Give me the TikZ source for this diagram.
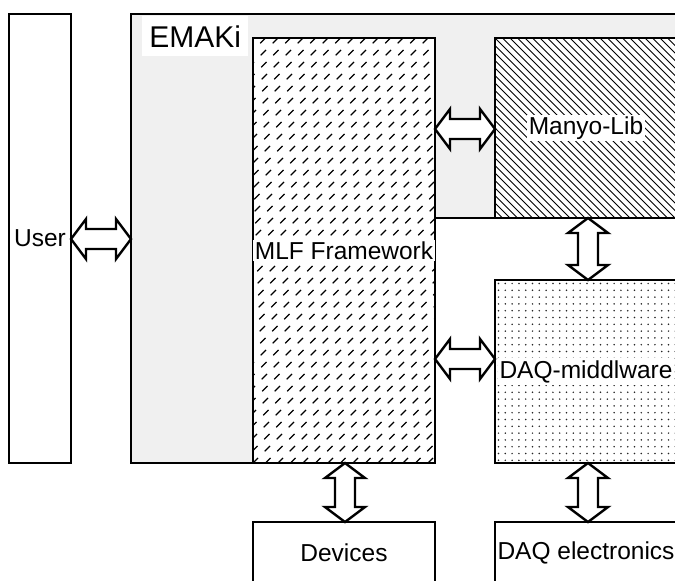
\documentclass[tikz,border=0pt]{standalone}
\usepackage{fontspec}
\setmainfont{Liberation Sans}
\usetikzlibrary{calc,backgrounds}
\definecolor{emakigray}{RGB}{240,240,240}
\tikzset{
 box/.style={draw, fill=white, line width=2.5pt, outer sep=0pt, inner sep=0pt, anchor=north west},
 lbl/.style={fill=white, inner sep=2pt, font=\fontsize{24.5}{28}\selectfont},
 arr/.style={draw, fill=white, line width=2.4pt, line join=miter},
 emakiarea/.style={draw, fill=emakigray, line width=2.5pt, line join=miter},
 hatchline/.style={line width=0.9pt},
 mlfdash/.style={line width=1.1pt, dash pattern=on 7.5pt off 9.47pt},
}
\newcommand\harr[3]{\path[arr] let \p1=(#1), \p2=(#2), \p3=(0,#3) in
 (\x1,\y3) -- (\x1+15pt,\y3+20pt) -- (\x1+15pt,\y3+10pt) -- (\x2-15pt,\y3+10pt) -- (\x2-15pt,\y3+20pt) -- (\x2,\y3)
 -- (\x2-15pt,\y3-20pt) -- (\x2-15pt,\y3-10pt) -- (\x1+15pt,\y3-10pt) -- (\x1+15pt,\y3-20pt) -- cycle;}
\newcommand\varr[3]{\path[arr] let \p1=(#1), \p2=(#2), \p3=(#3,0) in
 (\x3,\y1) -- (\x3+20pt,\y1-15pt) -- (\x3+10pt,\y1-15pt) -- (\x3+10pt,\y2+15pt) -- (\x3+20pt,\y2+15pt) -- (\x3,\y2)
 -- (\x3-20pt,\y2+15pt) -- (\x3-10pt,\y2+15pt) -- (\x3-10pt,\y1-15pt) -- (\x3-20pt,\y1-15pt) -- cycle;}
\begin{document}
\begin{tikzpicture}[x=1pt,y=-1pt]
\useasboundingbox (0,0) rectangle (675,581);
% boxes
\node[box, minimum width=62pt, minimum height=449pt] (user) at (9,14) {};
\node[anchor=north west, minimum width=569pt, minimum height=449pt, inner sep=0pt, outer sep=0pt] (emaki) at (131,14) {};
\node[box, minimum width=182pt, minimum height=425pt] (mlf) at (253,38) {};
\node[box, minimum width=182pt, minimum height=180pt] (manyo) at (495,38) {};
\node[box, minimum width=182pt, minimum height=183pt] (daqmw) at (495,280) {};
\node[box, minimum width=182pt, minimum height=62pt] (devices) at (253,522) {};
\node[box, minimum width=182pt, minimum height=62pt] (daqel) at (495,522) {};
% EMAKi area
\begin{pgfonlayer}{background}
\draw[emakiarea] (emaki.north west) -- (emaki.north east) -- (emaki.east |- manyo.south)
  -- (mlf.east |- manyo.south) -- (mlf.south east) -- (emaki.south west) -- cycle;
\end{pgfonlayer}
% patterns
\begin{scope}
\clip (mlf.north west) rectangle (mlf.south east);
\foreach \c in {291,303.5,...,910} \draw[mlfdash] (\c-38,38) -- (\c-470,470);
\end{scope}
\begin{scope}
\clip (manyo.north west) rectangle (manyo.south east);
\foreach \c in {277,284.5,...,642} \draw[hatchline] (\c+30,30) -- (\c+225,225);
\end{scope}
\begin{scope}
\clip (daqmw.north west) rectangle (daqmw.south east);
\foreach \i in {0,...,26} \foreach \j in {0,...,26} \fill[black!85] (498.5+6.8*\i,283.5+6.8*\j) circle (0.85pt);
\end{scope}
% labels
\node[fill=white, anchor=north west, minimum width=106pt, minimum height=40pt, inner sep=0pt, font=\fontsize{30}{34}\selectfont] (emakilbl) at (142,16) {EMAKi};
\node[lbl] (userlbl) at (user) {User};
\node[lbl] (mlflbl) at (mlf) {MLF Framework};
\node[lbl] (manyolbl) at (manyo) {Manyo-Lib};
\node[lbl] (daqmwlbl) at (daqmw) {DAQ-middlware};
\node[lbl] (deviceslbl) at (devices) {Devices};
\node[lbl] (daqellbl) at (daqel) {DAQ electronics};
% arrows
\harr{user.east}{emaki.west}{239}
\harr{mlf.east}{manyo.west}{129}
\harr{mlf.east}{daqmw.west}{359}
\varr{manyo.south}{daqmw.north}{588}
\varr{mlf.south}{devices.north}{345}
\varr{daqmw.south}{daqel.north}{588}
\end{tikzpicture}
\end{document}
